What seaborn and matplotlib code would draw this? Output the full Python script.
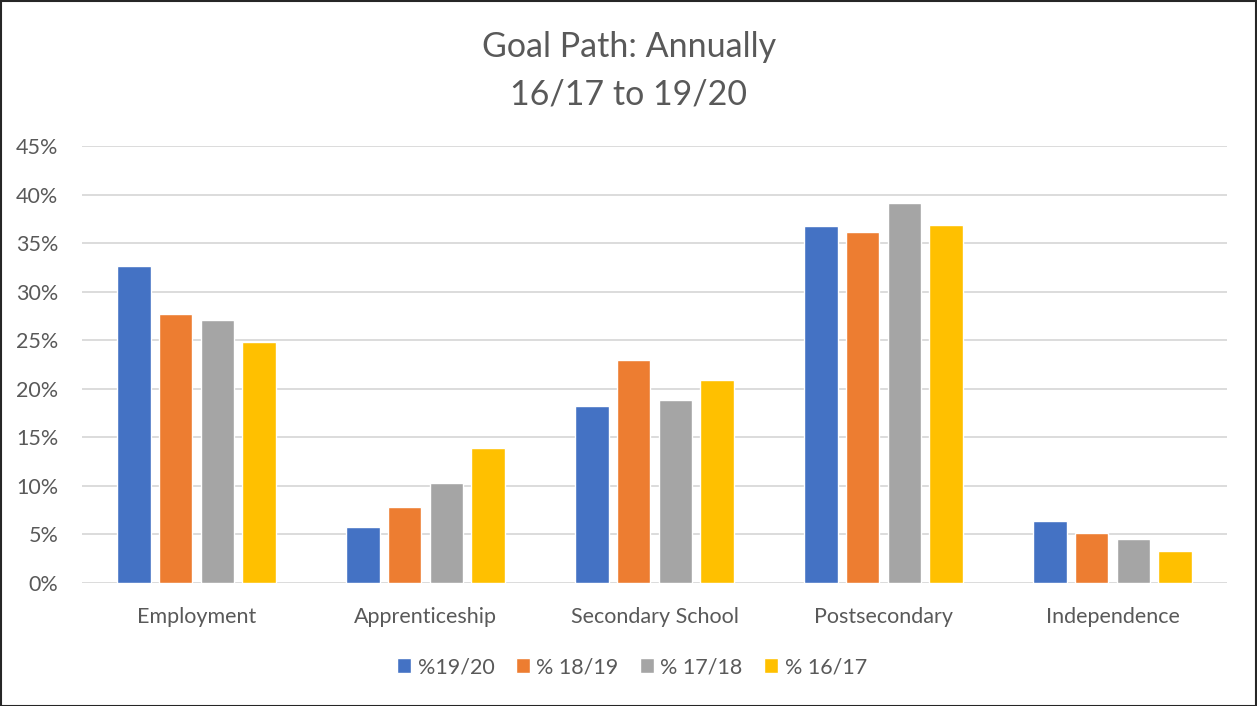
import matplotlib
matplotlib.use("Agg")
import matplotlib.pyplot as plt
import seaborn as sns
import pandas as pd
from matplotlib.patches import Rectangle

categories = ["Employment", "Apprenticeship", "Secondary School", "Postsecondary", "Independence"]
series_names = ["%19/20", "% 18/19", "% 17/18", "% 16/17"]
v_1920 = [0.326, 0.0577, 0.1826, 0.3677, 0.0639]
v_1819 = [0.2774, 0.0786, 0.2297, 0.3611, 0.0511]
v_1718 = [0.2709, 0.1026, 0.1881, 0.3910, 0.0450]
v_1617 = [0.2485, 0.1390, 0.2091, 0.3683, 0.0330]
yticks = [0.0, 0.05, 0.10, 0.15, 0.20, 0.25, 0.30, 0.35, 0.40, 0.45]
ytick_labels = ["0%", "5%", "10%", "15%", "20%", "25%", "30%", "35%", "40%", "45%"]
colors = ["#4472C4", "#ED7D31", "#A5A5A5", "#FFC000"]

rows = []
for name, vals in zip(series_names, [v_1920, v_1819, v_1718, v_1617]):
    for c, v in zip(categories, vals):
        rows.append({"category": c, "series": name, "value": v})
df = pd.DataFrame(rows)

sns.set_theme(style="white")
plt.rcParams["font.family"] = ["Lato", "DejaVu Sans"]
text_color = "#595959"

W, H = 1257, 706
fig = plt.figure(figsize=(W / 100, H / 100), dpi=100)
left, right, top, bottom = 82, 1227, 146, 583
ax = fig.add_axes([left / W, (H - bottom) / H, (right - left) / W, (bottom - top) / H])

sns.barplot(data=df, x="category", y="value", hue="series", order=categories,
            hue_order=series_names, palette=colors, width=0.727, gap=0.2,
            saturation=1, ax=ax, legend=True)

ax.set_ylim(0, 0.45)
ax.set_xlim(-0.5, len(categories) - 0.5)
ax.set_yticks(yticks)
ax.set_yticklabels(ytick_labels)
ax.yaxis.grid(True, color="#D9D9D9", linewidth=1.3)
ax.set_axisbelow(True)
for s in ax.spines.values():
    s.set_visible(False)
ax.tick_params(axis="both", length=0, labelsize=15.5, colors=text_color)
ax.tick_params(axis="y", pad=17)
ax.tick_params(axis="x", pad=17)
ax.set_xlabel("")
ax.set_ylabel("")

handles, labels = ax.get_legend_handles_labels()
ax.legend_.remove()
fig.legend(handles, labels, loc="center", bbox_to_anchor=(632 / W, 1 - 667 / H),
           ncol=4, frameon=False, fontsize=15.5, handlelength=0.65, handleheight=0.65,
           handletextpad=0.3, columnspacing=1.0, labelcolor=text_color)

fig.text(629 / W, 1 - 47 / H, "Goal Path: Annually", ha="center", va="center",
         fontsize=24.5, color=text_color)
fig.text(629 / W, 1 - 95 / H, "16/17 to 19/20", ha="center", va="center",
         fontsize=24.5, color=text_color)

fig.patches.append(Rectangle((0.5 / W, 0.5 / H), 1 - 1.5 / W, 1 - 1.5 / H,
                             transform=fig.transFigure, fill=False,
                             edgecolor="#262626", linewidth=1.5))

fig.savefig("out.png", dpi=100, facecolor="white")
